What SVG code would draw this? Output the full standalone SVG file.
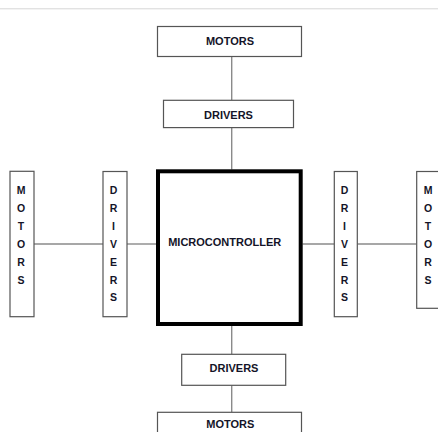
<svg xmlns="http://www.w3.org/2000/svg" width="438" height="432" viewBox="0 0 438 432">
<style>
.box{fill:#fff;stroke:#555;stroke-width:1.2}
.mcu{fill:#fff;stroke:#000;stroke-width:4}
.wire{stroke:#8a8a8a;stroke-width:1.4;fill:none}
text{font-family:"Liberation Sans",Arial,sans-serif;font-weight:bold;font-size:11px;fill:#141428;text-anchor:middle}
.v{font-size:10.5px}
</style>
<rect x="0" y="0" width="438" height="432" fill="#fff"/>
<line x1="0" y1="8.5" x2="438" y2="8.5" stroke="#e2e2e2" stroke-width="1"/>
<line x1="0" y1="9.5" x2="438" y2="9.5" stroke="#f3f3f3" stroke-width="1"/>
<g id="connectors">
<line class="wire" x1="231.7" y1="56.7" x2="231.7" y2="100"/>
<line class="wire" x1="231.7" y1="127.7" x2="231.7" y2="169.5"/>
<line class="wire" x1="231.7" y1="326" x2="231.7" y2="354.3"/>
<line class="wire" x1="231.7" y1="385.3" x2="231.7" y2="412.3"/>
<line class="wire" x1="34" y1="244" x2="103" y2="244"/>
<line class="wire" x1="127" y1="244" x2="156" y2="244"/>
<line class="wire" x1="302.5" y1="244" x2="334.3" y2="244"/>
<line class="wire" x1="357.3" y1="244" x2="416.7" y2="244"/>
</g>
<g id="motors-top">
<rect class="box" x="157.5" y="26.5" width="144" height="30"/>
<text x="230" y="45">MOTORS</text>
</g>
<g id="drivers-top">
<rect class="box" x="163.5" y="100.3" width="130" height="27.3"/>
<text x="228.5" y="118.5">DRIVERS</text>
</g>
<g id="microcontroller">
<rect class="mcu" x="158" y="171.3" width="142.7" height="152.7"/>
<text x="224.7" y="246">MICROCONTROLLER</text>
</g>
<g id="drivers-bottom">
<rect class="box" x="181.7" y="354.3" width="104" height="31"/>
<text x="234" y="371.7">DRIVERS</text>
</g>
<g id="motors-bottom">
<rect class="box" x="157.5" y="412.3" width="144" height="30"/>
<text x="230.3" y="428.3">MOTORS</text>
</g>
<g id="motors-left">
<rect class="box" x="10" y="171.3" width="24" height="145.4"/>
<text class="v" x="21"><tspan x="21" y="193.5">M</tspan><tspan x="21" y="211.5">O</tspan><tspan x="21" y="229.5">T</tspan><tspan x="21" y="247.5">O</tspan><tspan x="21" y="265.5">R</tspan><tspan x="21" y="283.5">S</tspan></text>
</g>
<g id="drivers-left">
<rect class="box" x="103" y="171.5" width="24" height="145.2"/>
<text class="v" x="113.5"><tspan x="113.5" y="193.5">D</tspan><tspan x="113.5" y="211.5">R</tspan><tspan x="113.5" y="229.5">I</tspan><tspan x="113.5" y="247.5">V</tspan><tspan x="113.5" y="265.5">E</tspan><tspan x="113.5" y="283.5">R</tspan><tspan x="113.5" y="301">S</tspan></text>
</g>
<g id="drivers-right">
<rect class="box" x="334.3" y="171.5" width="23" height="145.2"/>
<text class="v" x="344.5"><tspan x="344.5" y="193.5">D</tspan><tspan x="344.5" y="211.5">R</tspan><tspan x="344.5" y="229.5">I</tspan><tspan x="344.5" y="247.5">V</tspan><tspan x="344.5" y="265.5">E</tspan><tspan x="344.5" y="283.5">R</tspan><tspan x="344.5" y="301">S</tspan></text>
</g>
<g id="motors-right">
<rect class="box" x="416.7" y="171.5" width="30" height="136.8"/>
<text class="v" x="428"><tspan x="428" y="193.5">M</tspan><tspan x="428" y="211.5">O</tspan><tspan x="428" y="229.5">T</tspan><tspan x="428" y="247.5">O</tspan><tspan x="428" y="265.5">R</tspan><tspan x="428" y="283.5">S</tspan></text>
</g>
</svg>
